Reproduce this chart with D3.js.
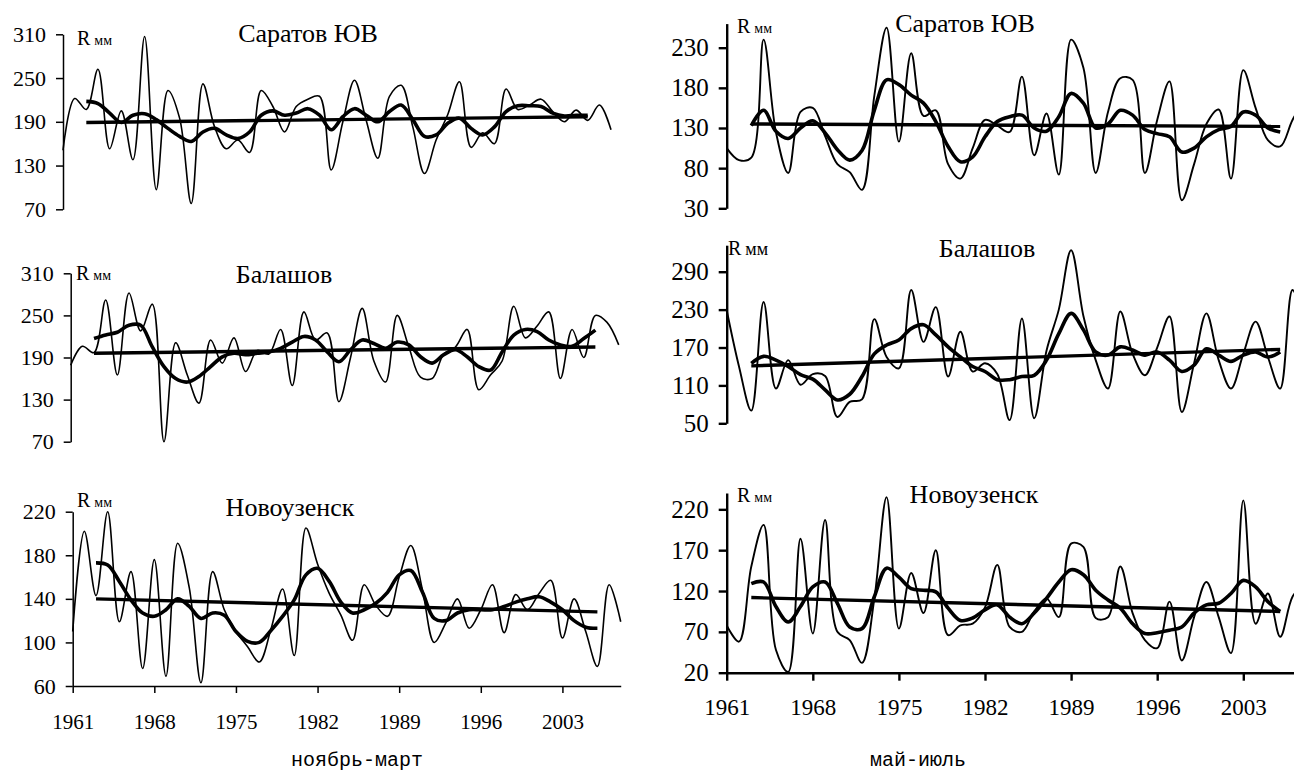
<!DOCTYPE html>
<html><head><meta charset="utf-8">
<script src="https://cdn.jsdelivr.net/npm/d3@7/dist/d3.min.js"></script>
<style>
html,body{margin:0;padding:0;background:#fff;overflow:hidden}
svg{display:block}
</style>
</head><body>
<svg id="chart" width="1294" height="774"></svg>
<script>
// ---------------- DATA ----------------
const firstYear = 1961;
const lastYear = 2008;
const maFirstYear = 1963;
const trendYears = [1963, 2006];
const xTickYears = [1961, 1968, 1975, 1982, 1989, 1996, 2003];
const stationNames = ["Саратов ЮВ", "Балашов", "Новоузенск"];
const seasonNames = ["ноябрь-март", "май-июль"];
const unitLabel = ["R", "мм"];

// ноябрь-март
const ticksSaratovW = [70, 130, 190, 250, 310];
const annualSaratovW = [151,222,207,262,153,205,138,307,97,233,
  195,78,242,183,153,165,148,233,211,176,
  211,221,225,124,190,247,192,140,225,240,
  183,119,165,200,245,155,175,160,235,207,
  213,221,204,190,206,192,213,179];
const maSaratovW = [218,215,202,189,199,201,193,181,170,163,
  176,181,172,167,176,199,205,199,202,208,
  199,179,197,208,199,190,204,213,193,170,
  172,188,195,181,172,183,204,212,212,211,
  202,198,199,199];
const trendSaratovW = [189, 197];

const ticksBalashovW = [70, 130, 190, 250, 310];
const annualBalashovW = [179,206,197,272,165,282,228,266,70,211,
  165,125,215,182,218,170,200,195,230,150,
  255,215,225,127,190,260,185,155,250,205,
  162,160,195,205,230,144,165,185,263,218,
  235,255,160,230,190,250,240,208];
const maBalashovW = [217,222,226,236,236,205,177,160,155,163,
  177,191,196,194,196,198,203,212,220,215,
  198,184,201,215,210,203,212,208,191,182,
  194,201,191,177,172,198,222,230,227,215,
  208,206,217,229];
const trendBalashovW = [196, 205];

const ticksNovouzenskW = [60, 100, 140, 180, 220];
const annualNovouzenskW = [110,202,143,220,119,165,76,176,69,191,
  150,63,165,130,110,96,82,112,149,88,
  205,172,145,125,102,153,134,124,160,189,
  148,100,118,140,113,130,153,109,144,130,
  145,157,104,140,110,78,153,119];
const maNovouzenskW = [173,171,156,139,127,124,130,140,133,122,
  127,125,110,101,100,111,124,139,162,168,
  156,137,127,130,136,146,162,166,146,122,
  120,127,130,130,130,133,137,140,142,137,
  130,120,114,113];
const trendNovouzenskW = [140, 128];

// май-июль
const ticksSaratovS = [30, 80, 130, 180, 230];
const annualSaratovS = [105,90,93,240,125,74,150,155,120,85,
  75,53,170,255,113,223,145,152,85,67,
  105,140,133,125,194,96,148,72,240,205,
  74,150,192,190,74,140,188,40,85,135,
  153,67,202,155,115,107,140,165];
const maSaratovS = [133,152,126,117,130,139,124,103,90,102,
  152,190,184,171,161,138,107,88,94,119,
  138,144,146,130,126,144,173,161,130,135,
  152,146,128,123,119,100,105,119,128,132,
  150,146,130,125];
const trendSaratovS = [135, 132];

const ticksBalashovS = [50, 110, 170, 230, 290];
const annualBalashovS = [229,140,70,242,105,150,111,128,125,60,
  84,88,215,155,137,261,179,234,124,195,
  132,145,128,55,216,58,165,230,324,220,
  150,105,227,160,126,170,219,68,145,224,
  150,105,160,211,155,105,261,200];
const maBalashovS = [145,156,150,140,127,120,103,87,96,124,
  160,174,182,200,206,190,171,155,140,132,
  119,119,124,126,150,192,224,198,163,158,
  171,166,158,163,150,132,142,168,158,148,
  158,163,155,163];
const trendBalashovS = [141, 167];

const ticksNovouzenskS = [20, 70, 120, 170, 220];
const annualNovouzenskS = [78,58,150,201,48,21,184,68,207,70,
  60,32,110,235,74,142,93,170,66,78,
  80,100,152,76,70,95,111,88,178,174,
  87,88,150,93,60,50,107,35,88,131,
  88,44,231,80,117,64,113,130];
const maNovouzenskS = [129,131,101,82,101,125,131,105,76,74,
  113,148,137,123,121,119,99,84,87,97,
  103,88,80,93,111,131,146,140,121,109,
  99,80,68,69,72,76,93,103,105,117,
  133,125,107,95];
const trendNovouzenskS = [112, 95];

// ---------------- LAYOUT ----------------
const columns = [
  {ppy: 11.66, axisW: 1.5, thinW: 1.6, yFont: 22, xFont: 21, tick: 7, xPad: 21, captionX: 357},
  {ppy: 12.30, axisW: 2.4, thinW: 1.9, yFont: 25, xFont: 23, tick: 8, xPad: 18, captionX: 918}
];

const panels = [
  {col:0, st:0, annual:annualSaratovW, ma:maSaratovW, trend:trendSaratovW, ticks:ticksSaratovW,
   dom:[70,310], axisX:63, rng:[209.3,34.3], title:[308,42], unit:[77,45], unitSmall:14, xAxis:false},
  {col:0, st:1, annual:annualBalashovW, ma:maBalashovW, trend:trendBalashovW, ticks:ticksBalashovW,
   dom:[70,310], axisX:70.7, rng:[441.7,273.3], title:[284,283], unit:[76,280], unitSmall:14, xAxis:false},
  {col:0, st:2, annual:annualNovouzenskW, ma:maNovouzenskW, trend:trendNovouzenskW, ticks:ticksNovouzenskW,
   dom:[60,220], axisX:72.7, rng:[686,511.7], title:[290,516], unit:[77,507], unitSmall:14, xAxis:true},
  {col:1, st:0, annual:annualSaratovS, ma:maSaratovS, trend:trendSaratovS, ticks:ticksSaratovS,
   dom:[30,260], axisX:726.7, rng:[208.3,23.6], title:[965,32], unit:[737,33], unitSmall:14, xAxis:false},
  {col:1, st:1, annual:annualBalashovS, ma:maBalashovS, trend:trendBalashovS, ticks:ticksBalashovS,
   dom:[50,332], axisX:726.7, rng:[423.3,245.2], title:[987,257], unit:[728,255], unitSmall:18, xAxis:false},
  {col:1, st:2, annual:annualNovouzenskS, ma:maNovouzenskS, trend:trendNovouzenskS, ticks:ticksNovouzenskS,
   dom:[20,240], axisX:726.7, rng:[672.7,493], title:[974,503], unit:[737,502], unitSmall:14, xAxis:true}
];

const serif = "'Liberation Serif','Times New Roman',serif";
const svg = d3.select("#chart");

panels.forEach(p => {
  const c = columns[p.col];
  const x = d3.scaleLinear().domain([firstYear, lastYear])
    .range([p.axisX, p.axisX + (lastYear - firstYear) * c.ppy]);
  const y = d3.scaleLinear().domain(p.dom).range(p.rng);
  const g = svg.append("g");

  // y axis
  const ya = g.append("g").attr("transform", `translate(${p.axisX},0)`)
    .call(d3.axisLeft(y).tickValues(p.ticks).tickSize(c.tick).tickSizeOuter(0).tickPadding(10))
    .attr("font-family", serif).attr("font-size", c.yFont);
  ya.select(".domain").attr("stroke", "#000").attr("stroke-width", c.axisW);
  ya.selectAll(".tick line").attr("stroke", "#000").attr("stroke-width", c.axisW);
  ya.selectAll(".tick text").style("font-family", serif).style("font-size", c.yFont + "px").attr("fill", "#000");

  // x axis
  if (p.xAxis) {
    const xa = g.append("g").attr("transform", `translate(0,${p.rng[0]})`)
      .call(d3.axisBottom(x).tickValues(xTickYears).tickFormat(d3.format("d"))
        .tickSize(c.tick).tickSizeOuter(0).tickPadding(c.xPad))
      .attr("font-family", serif).attr("font-size", c.xFont);
    xa.select(".domain").attr("stroke", "#000").attr("stroke-width", c.axisW);
    xa.selectAll(".tick line").attr("stroke", "#000").attr("stroke-width", c.axisW);
    xa.selectAll(".tick text").style("font-family", serif).style("font-size", c.xFont + "px").attr("fill", "#000");
  }

  // annual (thin)
  const annualPts = p.annual.map((v, i) => [firstYear + i, v]);
  g.append("path").datum(annualPts)
    .attr("fill", "none").attr("stroke", "#000").attr("stroke-width", c.thinW)
    .attr("d", d3.line().x(d => x(d[0])).y(d => y(d[1])).curve(d3.curveCatmullRom.alpha(0.5)));

  // moving average (thick)
  const maPts = p.ma.map((v, i) => [maFirstYear + i, v]);
  g.append("path").datum(maPts)
    .attr("fill", "none").attr("stroke", "#000").attr("stroke-width", 3.6)
    .attr("stroke-linejoin", "round")
    .attr("d", d3.line().x(d => x(d[0])).y(d => y(d[1])).curve(d3.curveCatmullRom.alpha(0.5)));

  // linear trend
  const trPts = trendYears.map((yr, i) => [yr, p.trend[i]]);
  g.append("path").datum(trPts)
    .attr("fill", "none").attr("stroke", "#000").attr("stroke-width", 3.4)
    .attr("d", d3.line().x(d => x(d[0])).y(d => y(d[1])));

  // title
  g.append("text").attr("x", p.title[0]).attr("y", p.title[1])
    .attr("text-anchor", "middle").style("font-family", serif).style("font-size", "26px")
    .text(stationNames[p.st]);

  // unit label
  const u = g.append("text").attr("x", p.unit[0]).attr("y", p.unit[1])
    .style("font-family", serif).style("font-size", "20px");
  u.append("tspan").text(unitLabel[0]);
  u.append("tspan").style("font-size", p.unitSmall + "px").attr("dx", 4).text(unitLabel[1]);
});

// season captions
columns.forEach((c, i) => {
  svg.append("text").attr("x", c.captionX).attr("y", 766)
    .attr("text-anchor", "middle")
    .style("font-family", "'Liberation Mono','Courier New',monospace")
    .style("font-size", "20px").text(seasonNames[i]);
});
</script>
</body></html>
